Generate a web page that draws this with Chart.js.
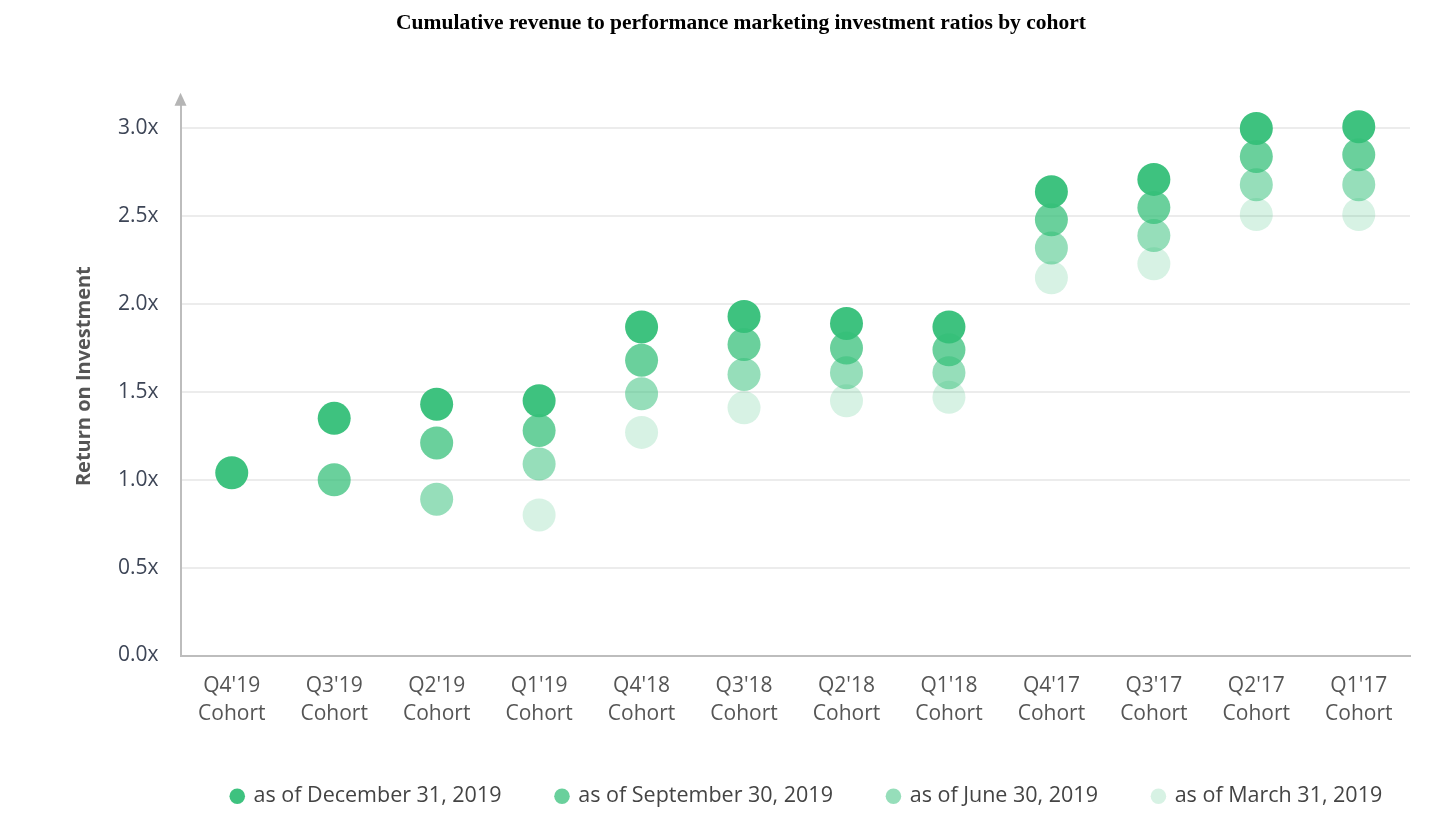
<!DOCTYPE html>
<html>
<head>
<meta charset="utf-8">
<title>Cumulative revenue to performance marketing investment ratios by cohort</title>
<script src="https://cdn.jsdelivr.net/npm/chart.js@4.4.1/dist/chart.umd.min.js"></script>
<style>
  html, body { margin: 0; padding: 0; background: #fff; }
  #wrap { width: 1456px; height: 833px; position: relative; }
</style>
</head>
<body>
<div id="wrap"><canvas id="ctx_roi_by_cohort"></canvas></div>
<script>
// cohorts along the x axis
var cohorts = [
    ["Q4'19", 'Cohort'], ["Q3'19", 'Cohort'], ["Q2'19", 'Cohort'], ["Q1'19", 'Cohort'],
    ["Q4'18", 'Cohort'], ["Q3'18", 'Cohort'], ["Q2'18", 'Cohort'], ["Q1'18", 'Cohort'],
    ["Q4'17", 'Cohort'], ["Q3'17", 'Cohort'], ["Q2'17", 'Cohort'], ["Q1'17", 'Cohort']
];

// return on investment
var asOfDec2019  = [1.04, 1.35, 1.43, 1.45, 1.87, 1.93, 1.89, 1.87, 2.64, 2.71, 3.00, 3.01];
var asOfSep2019  = [null, 1.00, 1.21, 1.28, 1.68, 1.77, 1.75, 1.74, 2.48, 2.55, 2.84, 2.85];
var asOfJun2019  = [null, null, 0.89, 1.09, 1.49, 1.60, 1.61, 1.61, 2.32, 2.39, 2.68, 2.68];
var asOfMar2019  = [null, null, null, 0.80, 1.27, 1.41, 1.45, 1.47, 2.15, 2.23, 2.51, 2.51];

var seriesNames  = ['as of December 31, 2019', 'as of September 30, 2019', 'as of June 30, 2019', 'as of March 31, 2019'];
var yTickValues  = [0, 0.5, 1.0, 1.5, 2.0, 2.5, 3.0];

var FONT = '"Open Sans", Lato, sans-serif';
// legend sits right of centre and close to the axis labels in the original
var LEGEND_SHIFT_X = 66;
var LEGEND_SHIFT_Y = -15;

function dots(label, data, color) {
    return {
        label: label,
        data: data,
        showLine: false,
        pointRadius: 16.5,
        pointHoverRadius: 16.5,
        pointBorderWidth: 0,
        backgroundColor: color,
        borderColor: color,
        pointStyle: 'circle',
        clip: false
    };
}

// small arrow head on top of the y axis
var axisArrow = {
    id: 'axisArrow',
    afterDraw: function(chart) {
        var c = chart.ctx, a = chart.chartArea;
        c.save();
        c.fillStyle = '#b5b5b5';
        c.beginPath();
        c.moveTo(a.left, a.top - 4);
        c.lineTo(a.left - 6, a.top + 9);
        c.lineTo(a.left + 6, a.top + 9);
        c.closePath();
        c.fill();
        c.restore();
    }
};

var legendShift = {
    id: 'legendShift',
    afterLayout: function(chart) {
        var lg = chart.legend;
        lg.left += LEGEND_SHIFT_X;
        lg.right += LEGEND_SHIFT_X;
        lg.top += LEGEND_SHIFT_Y;
        lg.bottom += LEGEND_SHIFT_Y;
    }
};

var ctx = document.getElementById('ctx_roi_by_cohort');
var myChart = new Chart(ctx, {
    type: 'line',
    data: {
        labels: cohorts,
        datasets: [
            dots(seriesNames[0], asOfDec2019, 'rgba(54, 192, 122, 0.96)'),
            dots(seriesNames[1], asOfSep2019, 'rgba(54, 192, 122, 0.74)'),
            dots(seriesNames[2], asOfJun2019, 'rgba(54, 192, 122, 0.52)'),
            dots(seriesNames[3], asOfMar2019, 'rgba(54, 192, 122, 0.2)')
        ]
    },
    plugins: [axisArrow, legendShift],
    options: {
        responsive: true,
        maintainAspectRatio: false,
        animation: false,
        layout: {
            padding: { left: 72, right: 46, top: 0, bottom: 1 }
        },
        plugins: {
            title: {
                display: true,
                text: 'Cumulative revenue to performance marketing investment ratios by cohort',
                color: '#000',
                font: { family: '"Liberation Serif", "Times New Roman", serif', size: 21.5, weight: 'bold' },
                padding: { top: 11, bottom: 60 }
            },
            legend: {
                position: 'bottom',
                labels: {
                    usePointStyle: true,
                    boxWidth: 11,
                    boxHeight: 11,
                    padding: 55,
                    color: '#444',
                    font: { family: FONT, size: 21.5 }
                }
            },
            tooltip: { enabled: true }
        },
        scales: {
            x: {
                offset: true,
                grid: { display: false, drawTicks: false },
                border: { display: true, color: '#bdbdbd', width: 2 },
                ticks: {
                    color: '#555',
                    padding: 17,
                    maxRotation: 0,
                    autoSkip: false,
                    font: { family: FONT, size: 21, lineHeight: 1.333 }
                }
            },
            y: {
                min: 0,
                max: 3.18,
                afterBuildTicks: function(axis) {
                    axis.ticks = yTickValues.map(function(v) { return { value: v }; });
                },
                grid: { color: '#ececec', lineWidth: 2, drawTicks: false },
                border: { display: true, color: '#bdbdbd', width: 2 },
                ticks: {
                    color: '#3d4556',
                    padding: 22,
                    font: { family: FONT, size: 21 },
                    callback: function(value) { return Number(value).toFixed(1) + 'x'; }
                },
                title: {
                    display: true,
                    text: 'Return on Investment',
                    color: '#555',
                    font: { family: FONT, size: 20, weight: 'bold' },
                    padding: { top: 0, bottom: 0 }
                }
            }
        }
    }
});
</script>
</body>
</html>
